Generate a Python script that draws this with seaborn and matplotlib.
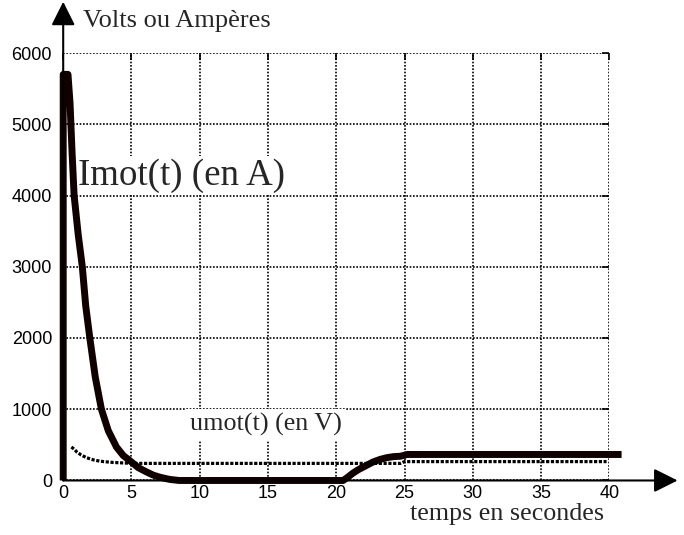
import seaborn as sns
import matplotlib.pyplot as plt
import pandas as pd

# current (A)
t_current = [0, 0, 0.35, 0.5, 0.65, 0.8, 1.1, 1.4, 1.65, 1.95, 2.35, 2.8, 3.3, 3.9, 4.4,
             5.0, 5.5, 6.1, 6.6, 7.1, 7.8, 8.5,
             20.5, 20.8, 21.2, 21.6, 22.0, 22.7, 23.2, 23.7, 24.2, 24.7, 25.2, 40.9]
i_current = [0, 5700, 5700, 5300, 4600, 4000, 3450, 3000, 2450, 2000, 1450, 1000, 700, 470, 350,
             260, 180, 120, 75, 45, 15, 0,
             0, 40, 100, 150, 190, 260, 295, 320, 335, 340, 365, 365]

# voltage (V)
t_voltage = [0.6, 0.8, 1.0, 1.3, 1.7, 2.2, 2.7, 3.65, 5.1, 24.7, 25.0, 39.8]
u_voltage = [470, 440, 400, 360, 320, 290, 270, 253, 240, 240, 265, 265]

x_ticks = [0, 5, 10, 15, 20, 25, 30, 35, 40]
y_ticks = [0, 1000, 2000, 3000, 4000, 5000, 6000]

sns.set_style("white")
plt.rcParams['font.family'] = ['Liberation Sans', 'DejaVu Sans']

df_i = pd.DataFrame({'t': t_current, 'val': i_current})
df_u = pd.DataFrame({'t': t_voltage, 'val': u_voltage})

fig = plt.figure(figsize=(6.84, 5.35), dpi=100)
ax = fig.add_axes([0.0924, 0.1019, 0.7984, 0.799])

sns.lineplot(data=df_i, x='t', y='val', sort=False, estimator=None, color='#110000',
             lw=5, solid_capstyle='butt', solid_joinstyle='round', clip_on=False, zorder=3, ax=ax)
sns.lineplot(data=df_u, x='t', y='val', sort=False, estimator=None, color='black',
             lw=2.3, linestyle=(0, (1, 0.5)), dash_capstyle='butt', clip_on=False, zorder=3, ax=ax)

ax.set_xlim(0, 40)
ax.set_ylim(0, 6000)
ax.set_xticks(x_ticks)
ax.set_yticks(y_ticks)
ax.set_xlabel('')
ax.set_ylabel('')
ax.grid(True, color='black', linestyle=(0, (1, 1)), lw=1.2)
ax.set_axisbelow(True)
for s in ax.spines.values():
    s.set_visible(False)
ax.tick_params(axis='both', direction='in', length=5, width=1.2, color='black',
               top=True, right=True, labelsize=13, labelcolor='black')
ax.tick_params(axis='x', pad=3)
ax.tick_params(axis='y', pad=8)

# axes with arrow heads
arrow = dict(arrowstyle='-|>,head_length=1.0,head_width=0.5', mutation_scale=14.5,
             lw=1.5, color='black', shrinkA=0, shrinkB=0)
ax.annotate('', xy=(45, 0), xytext=(0, 0), arrowprops=arrow, annotation_clip=False)
ax.annotate('', xy=(0, 6720), xytext=(0, 0), arrowprops=arrow, annotation_clip=False)

serif = ['Liberation Serif', 'DejaVu Serif']
ax.text(1.09, 4154, 'Imot(t) (en A)', family=serif, fontsize=26.6, ha='left', va='baseline',
        zorder=2.5, bbox=dict(boxstyle='square,pad=0.05', fc='white', ec='none'))
ax.text(9.3, 702, 'umot(t) (en V)', family=serif, fontsize=18.8, ha='left', va='baseline',
        zorder=2.5, bbox=dict(boxstyle='square,pad=0.15', fc='white', ec='none'))
fig.text(82.7 / 684, 1 - 27.3 / 535, 'Volts ou Ampères', family=serif, fontsize=19,
         ha='left', va='baseline')
fig.text(410 / 684, 1 - 520 / 535, 'temps en secondes', family=serif, fontsize=18.7,
         ha='left', va='baseline')

fig.savefig('out.png', dpi=100)
